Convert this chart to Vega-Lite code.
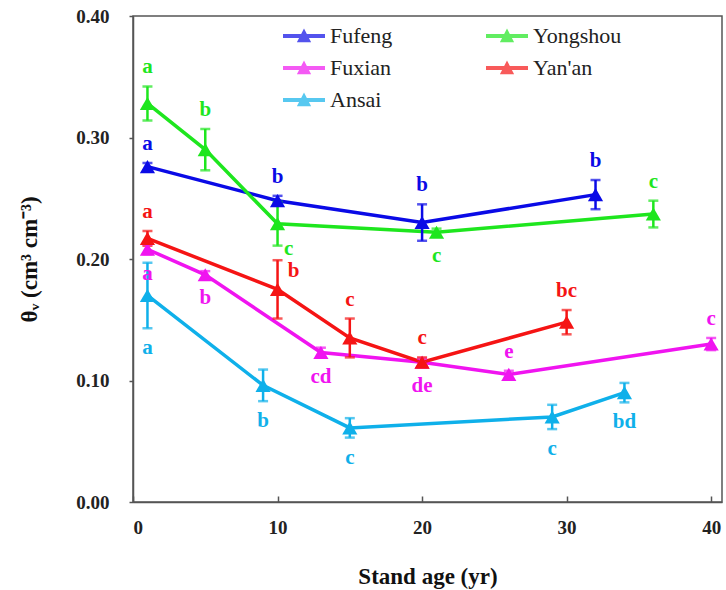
{
  "$schema": "https://vega.github.io/schema/vega-lite/v6.json",
  "width": 589,
  "height": 486,
  "autosize": {"type": "none"},
  "padding": {"left": 133, "top": 16, "right": 4, "bottom": 88},
  "config": {
    "view": {"stroke": "#555", "strokeWidth": 1.5},
    "axis": {"grid": false, "domainColor": "#555", "domainWidth": 1.5, "tickColor": "#555", "tickWidth": 1.5}
  },
  "data": {"values": [
    {"site": "Fufeng", "age": 1, "mean": 0.276, "lo": 0.273, "hi": 0.279, "label": "a", "pos": "above"},
    {"site": "Fufeng", "age": 10, "mean": 0.248, "lo": 0.244, "hi": 0.252, "label": "b", "pos": "above"},
    {"site": "Fufeng", "age": 20, "mean": 0.230, "lo": 0.215, "hi": 0.245, "label": "b", "pos": "above"},
    {"site": "Fufeng", "age": 32, "mean": 0.253, "lo": 0.241, "hi": 0.265, "label": "b", "pos": "above"},
    {"site": "Yongshou", "age": 1, "mean": 0.328, "lo": 0.314, "hi": 0.342, "label": "a", "pos": "above"},
    {"site": "Yongshou", "age": 5, "mean": 0.290, "lo": 0.273, "hi": 0.307, "label": "b", "pos": "above"},
    {"site": "Yongshou", "age": 10, "mean": 0.229, "lo": 0.211, "hi": 0.247, "label": "c", "pos": "br"},
    {"site": "Yongshou", "age": 21, "mean": 0.222, "lo": 0.219, "hi": 0.225, "label": "c", "pos": "below"},
    {"site": "Yongshou", "age": 36, "mean": 0.237, "lo": 0.226, "hi": 0.248, "label": "c", "pos": "above"},
    {"site": "Fuxian", "age": 1, "mean": 0.208, "lo": 0.204, "hi": 0.212, "label": "a", "pos": "below"},
    {"site": "Fuxian", "age": 5, "mean": 0.187, "lo": 0.184, "hi": 0.190, "label": "b", "pos": "below"},
    {"site": "Fuxian", "age": 13, "mean": 0.123, "lo": 0.119, "hi": 0.127, "label": "cd", "pos": "below"},
    {"site": "Fuxian", "age": 20, "mean": 0.115, "lo": 0.112, "hi": 0.118, "label": "de", "pos": "below"},
    {"site": "Fuxian", "age": 26, "mean": 0.105, "lo": 0.102, "hi": 0.108, "label": "e", "pos": "above"},
    {"site": "Fuxian", "age": 40, "mean": 0.130, "lo": 0.125, "hi": 0.135, "label": "c", "pos": "above"},
    {"site": "Yan'an", "age": 1, "mean": 0.217, "lo": 0.211, "hi": 0.223, "label": "a", "pos": "above"},
    {"site": "Yan'an", "age": 10, "mean": 0.175, "lo": 0.151, "hi": 0.199, "label": "b", "pos": "rt"},
    {"site": "Yan'an", "age": 15, "mean": 0.135, "lo": 0.119, "hi": 0.151, "label": "c", "pos": "above"},
    {"site": "Yan'an", "age": 20, "mean": 0.115, "lo": 0.111, "hi": 0.119, "label": "c", "pos": "above"},
    {"site": "Yan'an", "age": 30, "mean": 0.148, "lo": 0.138, "hi": 0.158, "label": "bc", "pos": "above"},
    {"site": "Ansai", "age": 1, "mean": 0.170, "lo": 0.143, "hi": 0.197, "label": "a", "pos": "below"},
    {"site": "Ansai", "age": 9, "mean": 0.096, "lo": 0.083, "hi": 0.109, "label": "b", "pos": "below"},
    {"site": "Ansai", "age": 15, "mean": 0.061, "lo": 0.053, "hi": 0.069, "label": "c", "pos": "below"},
    {"site": "Ansai", "age": 29, "mean": 0.070, "lo": 0.060, "hi": 0.080, "label": "c", "pos": "below"},
    {"site": "Ansai", "age": 34, "mean": 0.090, "lo": 0.082, "hi": 0.098, "label": "bd", "pos": "below"}
  ]},
  "encoding": {
    "x": {"field": "age", "type": "quantitative",
      "scale": {"domain": [0, 40.75], "nice": false},
      "axis": {"values": [0, 10, 20, 30, 40], "title": "Stand age (yr)", "tickSize": -6, "labelPadding": 22, "titlePadding": 28,
        "labelFont": "Liberation Serif", "labelFontWeight": "bold", "labelFontSize": 19, "labelColor": "#222",
        "titleFont": "Liberation Serif", "titleFontWeight": "bold", "titleFontSize": 23, "titleColor": "#111"}},
    "color": {"field": "site", "type": "nominal",
      "scale": {"domain": ["Fufeng", "Fuxian", "Ansai", "Yongshou", "Yan'an"],
        "range": ["#0a0ae6", "#f014f0", "#0fb0ea", "#1ee61e", "#f51414"]}}
  },
  "layer": [
    {
      "mark": {"type": "line", "strokeWidth": 3.5},
      "encoding": {
        "y": {"field": "mean", "type": "quantitative", "scale": {"domain": [0, 0.4]}, "title": "θᵥ (cm³ cm⁻³)",
          "axis": {"values": [0, 0.1, 0.2, 0.3, 0.4], "format": ".2f", "tickSize": 4, "labelPadding": 20, "titlePadding": 34,
            "labelFont": "Liberation Serif", "labelFontWeight": "bold", "labelFontSize": 19, "labelColor": "#222",
            "titleFont": "Liberation Serif", "titleFontWeight": "bold", "titleFontSize": 23, "titleColor": "#111"}}
      }
    },
    {
      "mark": {"type": "errorbar", "thickness": 2.5, "ticks": {"size": 10, "thickness": 2.5}},
      "encoding": {
        "y": {"field": "lo", "type": "quantitative", "title": "θᵥ (cm³ cm⁻³)"},
        "y2": {"field": "hi"}
      }
    },
    {
      "mark": {"type": "point", "shape": "triangle-up", "filled": true, "opacity": 1, "size": 230},
      "encoding": {
        "y": {"field": "mean", "type": "quantitative", "title": "θᵥ (cm³ cm⁻³)"},
        "color": {"field": "site", "type": "nominal",
          "legend": {"title": null, "orient": "none", "legendX": 150, "legendY": -1, "columns": 2, "columnPadding": 93, "rowPadding": 0,
            "symbolType": "M-1,-0.09L1,-0.09L1,0.09L-1,0.09Z M-0.34,0.3L0,-0.36L0.34,0.3Z",
            "symbolSize": 1764, "symbolStrokeWidth": 0, "labelFont": "Liberation Serif", "labelFontSize": 22, "labelColor": "#222", "labelOffset": 5, "padding": 0}}
      }
    },
    {
      "transform": [{"filter": "datum.pos === 'above'"}],
      "mark": {"type": "text", "font": "Liberation Serif", "fontWeight": "bold", "fontSize": 21, "dy": -19, "baseline": "middle"},
      "encoding": {"y": {"field": "hi", "type": "quantitative"}, "text": {"field": "label"}}
    },
    {
      "transform": [{"filter": "datum.pos === 'below'"}],
      "mark": {"type": "text", "font": "Liberation Serif", "fontWeight": "bold", "fontSize": 21, "dy": 20, "baseline": "middle"},
      "encoding": {"y": {"field": "lo", "type": "quantitative"}, "text": {"field": "label"}}
    },
    {
      "transform": [{"filter": "datum.pos === 'br'"}],
      "mark": {"type": "text", "font": "Liberation Serif", "fontWeight": "bold", "fontSize": 21, "dx": 11, "dy": 3, "baseline": "middle"},
      "encoding": {"y": {"field": "lo", "type": "quantitative"}, "text": {"field": "label"}}
    },
    {
      "transform": [{"filter": "datum.pos === 'rt'"}],
      "mark": {"type": "text", "font": "Liberation Serif", "fontWeight": "bold", "fontSize": 21, "dx": 16, "dy": 11, "baseline": "middle"},
      "encoding": {"y": {"field": "hi", "type": "quantitative"}, "text": {"field": "label"}}
    }
  ]
}
